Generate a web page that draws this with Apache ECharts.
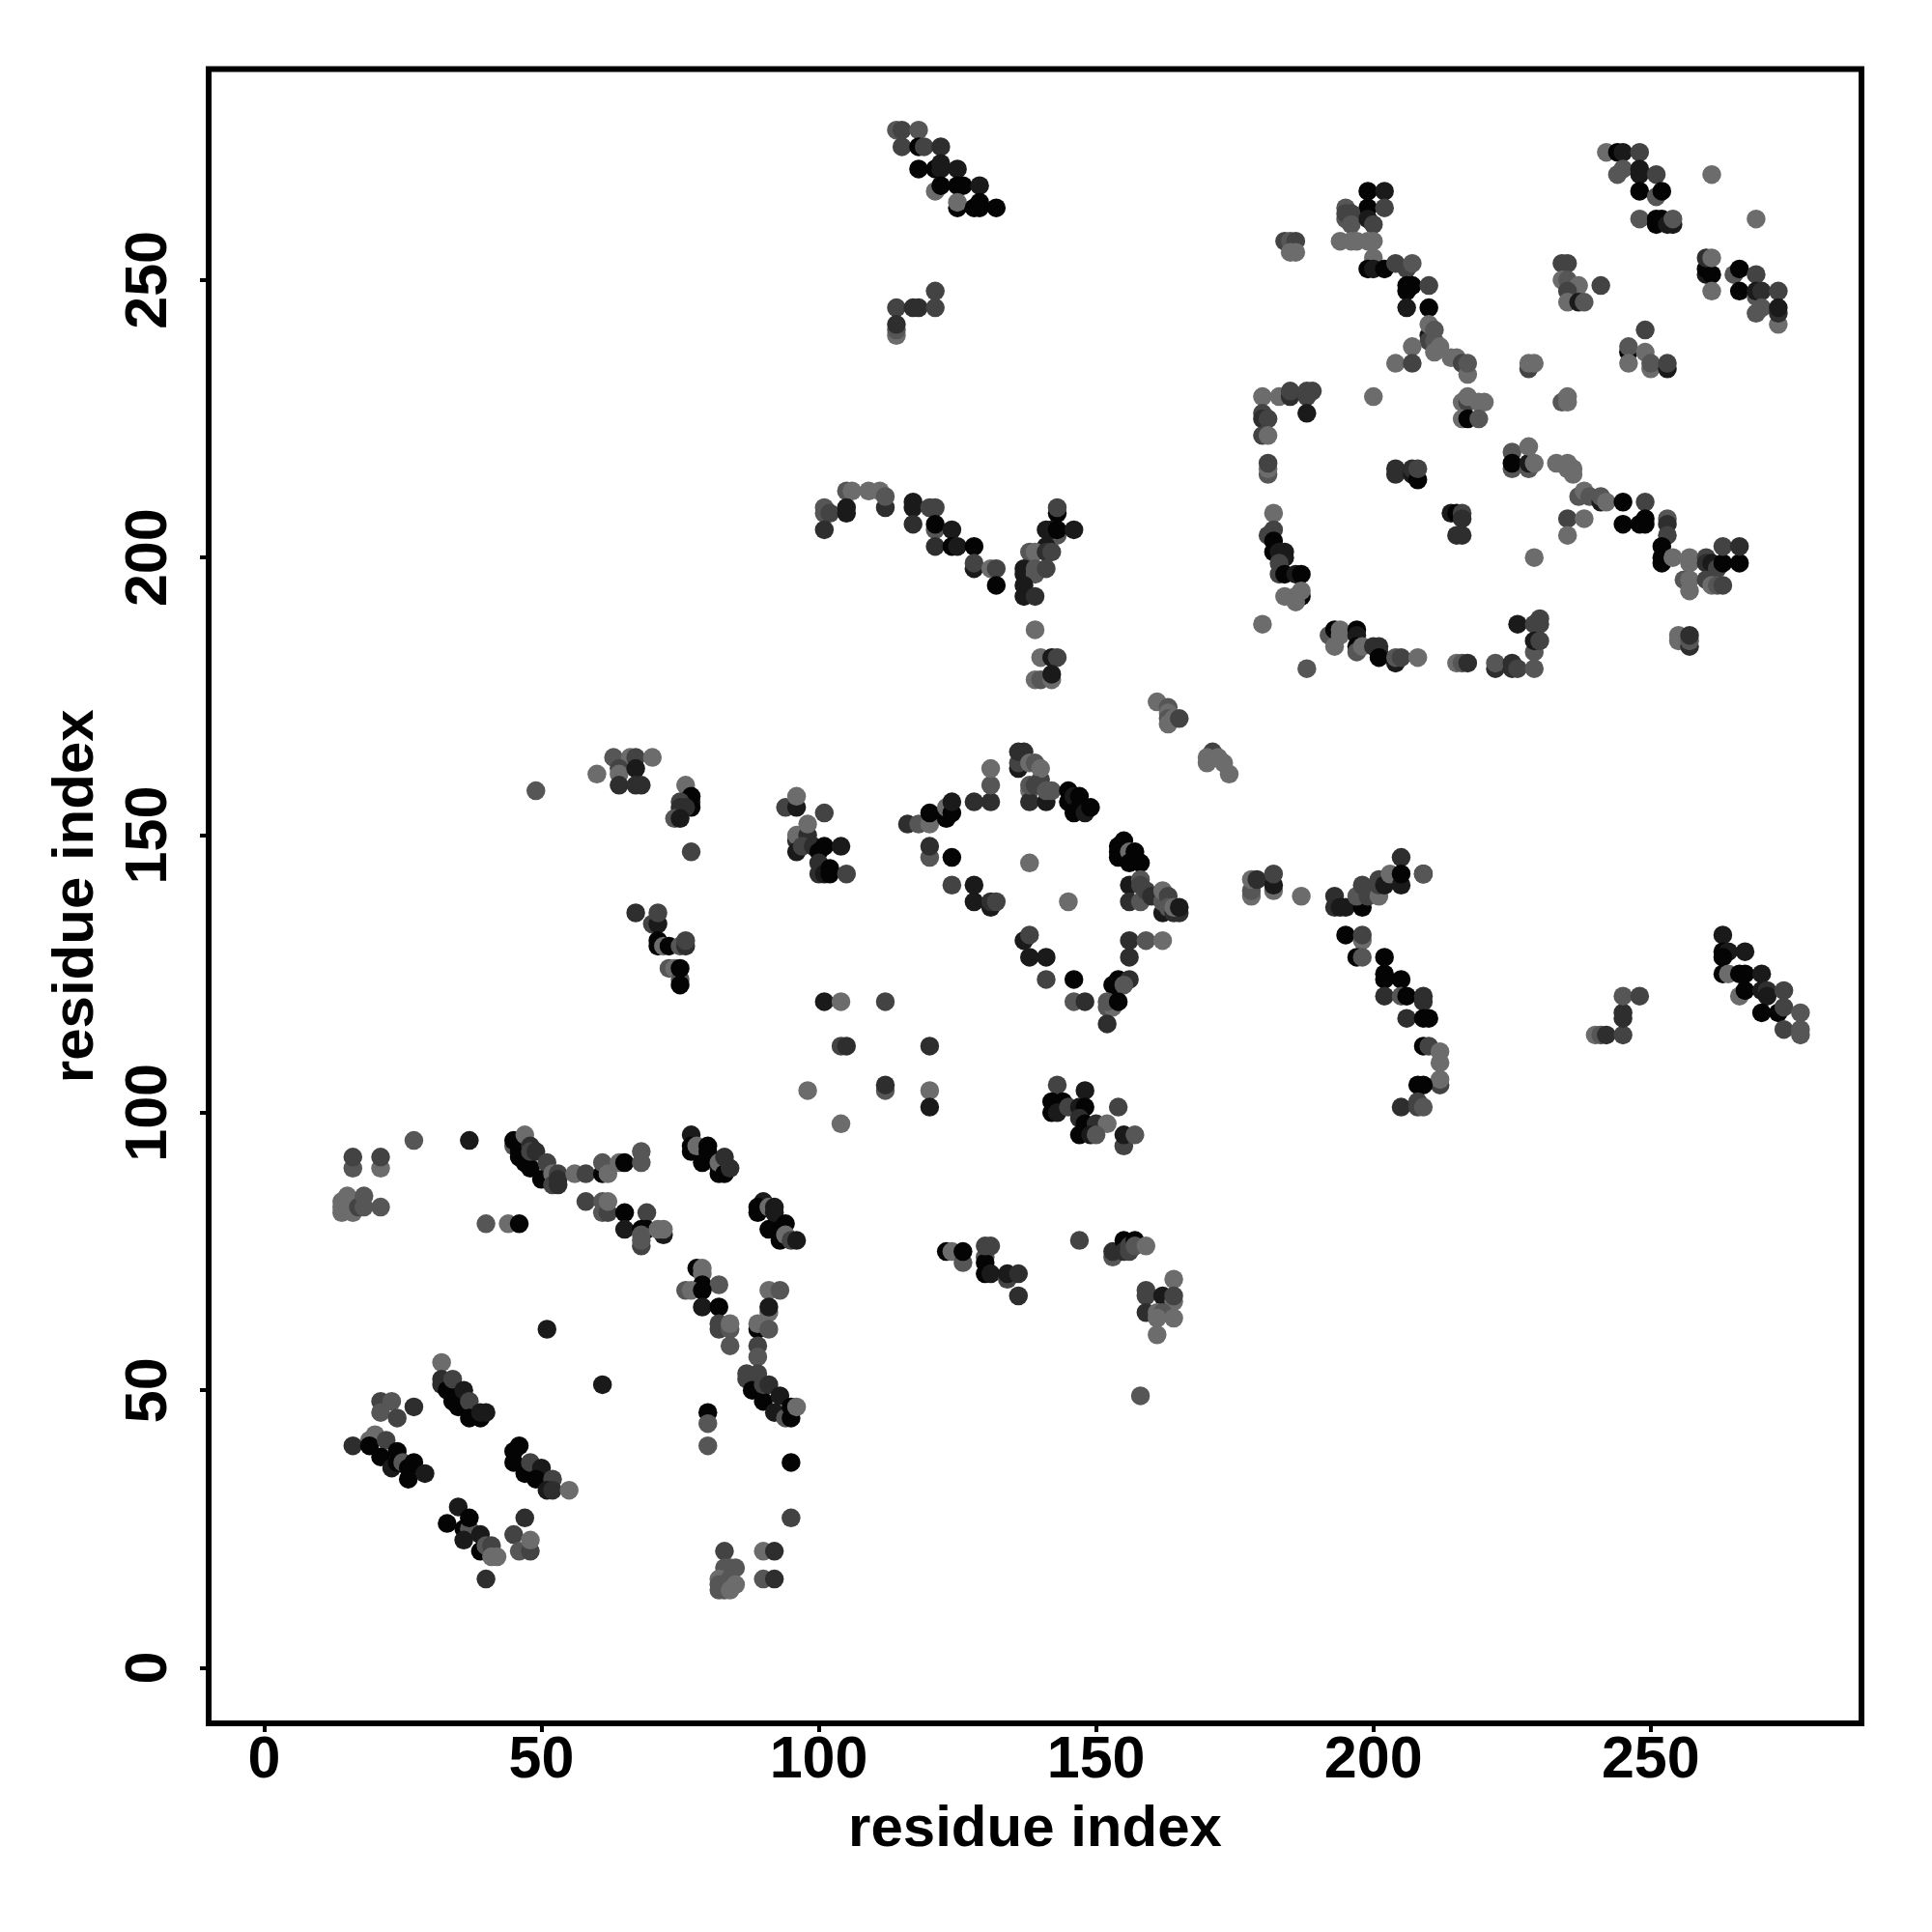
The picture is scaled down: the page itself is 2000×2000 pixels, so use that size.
<!DOCTYPE html>
<html><head><meta charset="utf-8">
<script src="https://cdn.jsdelivr.net/npm/echarts@6/dist/echarts.min.js"></script>
<style>html,body{margin:0;padding:0;background:#fff}#c{width:2000px;height:2000px}</style>
</head><body><div id="c"></div>
<script>
const axisTitle = "residue index";
const tickValues = [0, 50, 100, 150, 200, 250];
const shades = ["#040404", "#1a1a1a", "#2e2e2e", "#434343", "#565656", "#6c6c6c"];
// every contact is [residue x, residue y, shade index]
const lowLeftA = [[16,90,4],[16,92,3],[21,90,5],[21,92,3],[27,95,4],[37,95,1],
 [14,84,5],[14,82,5],[14,83,5],[15,85,5],[15,84,5],[16,82,5],[16,84,5],[17,83,3],[18,83,4],[18,85,4],[21,83,4]];
const lowLeftB = [[45,94,4],[45,95,0],[46,93,0],[46,92,0],[47,91,0],[48,90,0],[47,96,5],[48,94,2],[48,93,3],[49,93,2],[50,88,0],[51,91,3],[52,89,5],[52,87,3],[53,89,3],[53,88,2],[53,87,2],
 [56,89,5],[58,89,3],[61,89,0],[61,91,4],[62,89,5],[64,91,5],[65,91,0],[68,93,4],[68,91,4]];
const lowLeftC = [[58,84,3],[61,82,4],[61,84,4],[62,82,3],[62,84,5],[65,82,0],[65,79,1],[69,82,3],[68,79,0],[69,79,0],[68,76,3],[68,77,4],[68,78,4],[72,78,1],[71,79,5],[72,79,5],[40,80,4],[44,80,5],[46,80,0]];
const lowLeftD = [[77,96,1],[77,94,0],[77,93,0],[79,91,0],[78,94,5],[80,94,0],[80,93,0],[82,90,1],[82,89,0],[82,91,5],[83,89,0],[83,92,2],[84,90,2]];
const lowLeftE = [[90,84,1],[89,83,0],[89,82,0],[91,83,5],[92,83,1],[91,79,0],[92,79,0],[92,82,1],[94,80,0],[93,77,0],[94,78,5],[95,77,3],[96,77,1]];
const midLeftA = [[78,72,0],[79,72,5],[79,71,5],[79,69,0],[82,69,4],[76,68,4],[77,68,5],[79,68,0],[79,65,1],[82,65,0],[82,62,3],[82,61,3],[84,61,4],[84,62,5],[84,58,4],
 [91,68,5],[93,68,4],[91,64,5],[91,65,1],[89,61,0],[89,62,5],[91,61,4],[89,58,3],[89,56,4]];
const midLeftB = [[87,52,3],[87,53,3],[89,53,3],[88,50,0],[90,48,0],[90,51,3],[91,51,2],[93,49,1],[92,46,1],[94,45,4],[95,45,0],[95,47,0],[96,47,5],
 [80,46,0],[80,44,4],[80,40,4],[95,37,0],[95,27,3],[51,61,1],[61,51,1]];
const cornerA = [[32,55,5],[32,51,2],[32,52,2],[33,50,0],[34,48,0],[35,47,0],[34,52,3],[36,50,1],[37,48,3],[37,45,0],[39,45,0],[39,46,1],[40,46,1],
 [21,48,3],[23,48,4],[21,46,4],[24,45,3],[27,47,2]];
const cornerB = [[19,41,5],[20,42,5],[16,40,2],[19,40,0],[22,41,3],[21,38,0],[24,39,0],[23,36,1],[24,37,0],[25,37,4],[26,36,0],[26,34,0],[27,37,0],[29,35,1]];
const cornerC = [[46,40,0],[45,39,0],[45,37,0],[47,35,0],[48,37,3],[50,36,1],[49,34,0],[52,34,3],[51,32,1],[52,32,2],[55,32,5]];
const cornerD = [[35,29,1],[33,26,0],[36,25,0],[37,25,4],[37,27,0],[36,23,1],[39,24,1],[39,21,0],[40,22,4],[41,22,3],[41,20,5],[42,20,5],[40,16,2],
 [47,27,2],[45,24,3],[46,21,4],[48,21,3],[48,23,5]];
const cornerE = [[83,21,3],[83,18,4],[84,18,4],[85,18,4],[82,16,5],[82,15,4],[82,14,4],[83,14,4],[84,16,4],[84,14,5],[85,15,5],[90,21,5],[92,21,2],[90,16,4],[92,16,2]];
const midA = [[49,158,4],[60,161,5],[63,164,4],[66,164,5],[64,162,3],[64,161,5],[64,159,2],[67,164,3],[70,164,5],[67,162,1],[67,159,2],[68,159,2]];
const midB = [[76,159,5],[77,156,2],[77,155,0],[77,157,0],[75,156,3],[75,155,2],[76,155,2],[74,153,4],[75,153,1],[77,147,3]];
const midC = [[67,136,2],[70,134,3],[71,134,1],[71,136,3],[71,131,0],[71,130,0],[72,130,5],[73,130,0],[75,130,4],[76,130,2],[76,131,3],[73,126,4],[74,126,5],[75,124,4],[75,123,0],[75,126,0]];
const midD = [[94,155,3],[96,155,1],[96,157,5],[101,154,3],[96,149,2],[96,150,5],[98,150,2],[96,147,1],[97,148,3],[98,152,5],[99,148,2],[101,148,0],[104,148,1],[100,147,0],[100,145,2],[100,143,2],[101,143,1],[102,144,0],[102,143,0],[105,143,3]];
const midE = [[116,152,2],[118,152,4],[120,152,5],[120,154,0],[123,153,0],[123,155,5],[124,154,0],[124,156,1],[128,156,2],[131,156,2],[131,159,4],[131,162,5],
 [120,146,4],[120,148,2],[124,146,0],[124,141,3],[128,141,1],[128,138,1],[131,137,1],[131,138,2],[132,138,3]];
const isolated = [[101,120,1],[104,120,5],[112,120,3],[104,112,3],[105,112,2],[120,112,2],[98,104,5],[112,104,4],[112,105,2],[120,104,5],[120,101,1],[104,98,5],[138,145,5],[145,138,5]];
const diamondTop = [[136,162,1],[136,163,3],[136,165,2],[137,165,2],[138,158,5],[138,163,5],[139,163,4],[140,160,3],[140,162,5],[138,156,2],[141,156,1],[138,159,4],[139,159,3],[141,158,4],[142,158,4],
 [145,158,0],[145,156,0],[146,157,1],[146,154,0],[147,157,0],[147,155,0],[148,154,1],[149,155,0]];
const diamondRight = [[155,149,0],[154,148,0],[154,147,0],[154,146,0],[156,147,5],[157,147,0],[156,145,0],[158,145,0],
 [156,141,1],[156,138,2],[158,142,4],[158,141,3],[158,138,4],[159,140,3],[160,139,2],[162,136,1],[162,138,4],[162,140,5],[163,139,3],[163,137,4],[164,136,2],[165,136,2],[164,137,5],[165,137,1]];
const diamondLow = [[156,131,2],[159,131,4],[162,131,5],[156,128,2],[137,131,1],[138,132,3],[138,128,1],[141,128,1],[141,124,3],[146,124,0],[146,120,4],[148,120,2],
 [153,123,0],[154,124,0],[156,124,2],[155,123,4],[152,119,4],[153,119,5],[152,120,4],[154,120,0],[152,116,2]];
const centerLow = [[143,105,3],[148,104,1],[142,102,0],[144,102,0],[142,100,0],[143,100,1],[145,101,3],[147,101,1],[148,101,0],[154,101,3],[147,99,2],[148,98,0],[150,98,2],[152,98,5],[147,96,0],[149,96,1],[150,96,4],[155,94,3],[155,96,1],[157,96,4]];
const stripeMid = [[123,75,0],[124,75,5],[126,73,4],[126,75,0],[130,74,4],[130,73,0],[130,71,0],[131,71,1],[130,76,3],[131,76,3],[134,70,3],[134,71,1],[136,71,2],[136,67,2],
 [147,77,3],[153,74,4],[153,75,2],[155,77,0],[155,75,2],[156,75,3],[156,76,3],[157,77,0],[157,76,4],[159,76,5]];
const stripeLow = [[164,70,5],[159,68,3],[159,67,3],[159,64,2],[162,67,1],[164,66,5],[164,67,3],[161,64,5],[162,64,4],[161,63,5],[164,63,5],[161,60,5],[158,49,4]];
const diagonalGap = [[161,174,5],[163,173,4],[163,172,5],[163,171,4],[163,170,5],[164,171,5],[165,171,3],[171,165,3],[170,163,5],[170,164,5],[172,164,5],[173,163,5],[174,161,5]];
const rightMidA = [[178,139,5],[178,140,4],[178,142,5],[179,142,2],[182,140,5],[182,141,1],[182,143,3],[187,139,5],
 [193,139,2],[193,137,2],[194,137,1],[195,137,1],[198,137,0],[197,139,4],[198,141,3],[199,139,3],[201,139,5],[201,141,3],[201,142,3],[202,141,1],[203,143,5],[205,146,2],[205,141,1],[205,143,0],[209,143,0],[209,143,4]];
const rightMidB = [[195,132,0],[198,131,5],[198,132,3],[197,128,0],[198,128,4],[202,128,0],[202,125,0],[202,124,0],[205,124,0],[202,121,2],[205,121,4],[206,121,0],[209,120,2],[209,121,2],[206,117,2],[209,117,0],[210,117,0],
 [209,112,0],[210,112,3],[212,111,5],[212,109,5],[212,105,3],[212,106,5],[208,105,0],[209,105,0],[205,101,2],[208,102,3],[208,101,3],[209,101,4]];
const rightMidC = [[240,114,5],[241,114,4],[242,114,2],[245,114,3],[245,117,2],[245,118,2],[245,121,4],[248,121,3]];
const rightMidD = [[263,132,1],[263,129,0],[264,129,1],[263,128,0],[267,129,1],[263,125,0],[264,125,5],[266,125,0],[267,125,0],[270,125,1],[266,121,5],[267,122,0],[270,122,1],[271,122,2],[271,121,1],[274,122,3],[270,118,0],[273,118,0],[274,119,3],[277,118,4],[274,115,3],[277,114,4],[277,115,4]];
const topDiagonal = [[114,277,4],[115,277,3],[118,277,4],[115,274,3],[118,274,0],[119,274,3],[122,274,2],[118,270,0],[121,270,0],[122,270,1],[122,271,1],[125,270,1],[121,266,5],[122,267,0],[125,263,0],[125,267,0],[126,267,0],[125,264,5],[129,267,1],[128,263,0],[129,263,0],[129,264,0],[132,263,0],
 [121,248,3],[114,245,3],[117,245,2],[118,245,2],[121,245,3],[114,240,5],[114,241,4],[114,242,2]];
const archA = [[101,209,4],[101,208,4],[102,208,3],[101,205,2],[105,212,4],[106,212,5],[109,212,5],[111,212,5],[105,209,1],[105,208,1],[112,209,2],[112,211,4],[117,210,1],[117,209,1],[117,206,2],[120,209,3],[121,209,3],[121,205,4],[121,206,0],[124,205,1],[121,202,2],[124,202,0],[125,202,1],[128,202,0],[128,198,1],[128,199,3],[131,198,5],[132,198,3],[132,195,0]];
const archB = [[143,208,0],[143,209,3],[142,204,4],[143,204,4],[141,205,1],[142,205,1],[143,205,0],[146,205,1],[141,202,1],[138,201,4],[139,201,5],[141,201,2],[142,201,3],[137,198,1],[137,197,1],[139,197,4],[139,198,4],[141,198,3],[137,195,1],[137,193,1],[139,193,2],
 [139,187,5],[140,182,5],[142,182,1],[143,182,3],[139,178,5],[140,178,4],[142,178,5],[142,179,1]];
const topRightA = [[242,273,5],[244,273,0],[245,273,1],[248,273,3],[244,269,4],[245,270,4],[248,269,1],[248,270,1],[251,269,3],[248,266,0],[251,265,4],[252,266,0],[261,269,5],[248,261,4],[251,260,0],[251,261,0],[252,261,0],[253,260,1],[254,260,1],[254,261,4],[269,261,5]];
const topRightB = [[260,251,1],[260,252,0],[261,251,0],[260,254,2],[261,254,5],[261,248,5],[265,251,4],[266,252,0],[269,251,3],[266,248,0],[269,247,4],[269,248,1],[270,248,2],[273,248,3],[269,244,4],[270,245,4],[273,242,5],[273,244,2],[273,245,1]];
const topRightC = [[234,253,3],[235,253,3],[234,250,5],[235,250,4],[237,249,5],[241,249,3],[235,248,3],[235,246,5],[237,246,1],[238,246,4],
 [249,241,3],[246,237,0],[246,238,4],[246,235,5],[249,237,5],[250,234,5],[250,235,4],[253,234,1],[253,235,3]];
const upperA = [[199,266,0],[202,266,1],[199,263,0],[202,263,3],[195,261,4],[195,263,4],[195,262,3],[196,262,3],[196,260,4],[199,261,1],[200,260,3],[194,257,5],[196,257,5],[197,257,5],[199,257,5],[200,257,5],[200,254,5],[199,252,0],[200,252,1],[202,252,0],[204,253,3],[206,252,3],[207,253,4],
 [184,257,3],[185,257,4],[186,257,3],[185,255,5],[186,255,5]];
const upperB = [[206,248,0],[206,249,0],[207,249,0],[210,249,3],[206,245,1],[210,245,0],[210,240,1],[210,239,3],[210,242,5],[211,241,4],[211,239,4],[212,238,5],[207,238,5],[211,237,5],[204,235,5],[207,235,3],[214,236,5],[215,236,5],[216,235,3],[217,233,5],[217,235,4],[228,234,3],[228,235,5],[229,235,5]];
const upperC = [[216,228,5],[217,228,3],[217,229,5],[219,228,5],[220,228,5],[216,225,5],[217,225,0],[219,225,4],[234,228,4],[235,228,5],[235,229,5],[200,229,5],
 [180,229,5],[183,229,5],[185,229,2],[185,230,3],[188,229,3],[188,230,3],[189,230,3],[188,226,1],[180,226,3],[180,225,2],[181,225,3],[180,222,3],[181,222,5],[181,215,4],[181,216,5],[181,217,3]];
const upperD = [[204,215,2],[204,216,2],[207,215,1],[207,216,2],[208,214,0],[208,216,3],[214,208,1],[215,208,0],[216,208,3],[216,207,2],[215,204,2],[216,204,2]];
const upperE = [[225,219,4],[225,216,4],[225,217,0],[228,216,4],[228,217,1],[228,220,5],[229,217,5],[233,217,5],[235,216,5],[235,217,5],[236,216,5],[236,215,5],
 [237,211,4],[238,212,5],[239,211,4],[241,210,1],[241,211,4],[242,210,5],[245,210,0],[249,210,3],[235,207,3],[238,207,5],[235,204,5]];
const upperF = [[245,206,0],[248,206,0],[249,207,0],[249,206,0],[253,207,4],[253,206,2],[253,204,3],[252,202,0],[252,200,0],[252,199,0],[254,200,5],[229,200,5],
 [257,199,5],[257,200,5],[256,196,4],[257,196,5],[257,194,5],[260,200,3],[260,199,2],[261,199,1],[262,198,3],[263,199,0],[266,199,0],[263,202,3],[266,202,2],[260,196,3],[261,195,5],[262,195,4],[263,195,3],
 [255,185,5],[255,186,5],[257,184,2],[257,185,4],[257,186,2]];
const arcLeft = [[182,208,5],[182,205,3],[181,204,3],[182,203,0],[182,201,0],[183,201,1],[184,201,1],[184,200,1],[183,199,3],[183,197,3],[184,197,0],[186,197,1],[187,197,0],[184,193,5],[186,193,5],[187,193,0],[187,194,5],[186,192,5],[180,188,5],[188,180,4]];
const arcBottom = [[192,186,4],[193,187,0],[194,187,5],[193,184,5],[194,186,5],[197,187,0],[197,186,1],[197,184,0],[197,183,4],[198,184,5],[200,184,2],[201,184,2],[201,183,2],[201,182,0],[204,181,1],[204,182,4],[205,182,3],[208,182,5],
 [215,181,5],[216,181,4],[217,181,2],[222,180,2],[222,181,4],[225,181,2],[225,180,2],[226,180,3],[229,180,4],[229,183,4],[226,188,1],[229,188,3],[230,188,3],[230,189,3],[229,185,1],[230,185,3]];

const contacts = [].concat(lowLeftA, lowLeftB, lowLeftC, lowLeftD, lowLeftE, midLeftA, midLeftB, cornerA, cornerB, cornerC, cornerD, cornerE,
  midA, midB, midC, midD, midE, isolated, diamondTop, diamondRight, diamondLow, centerLow, stripeMid, stripeLow, diagonalGap,
  rightMidA, rightMidB, rightMidC, rightMidD, topDiagonal, archA, archB, topRightA, topRightB, topRightC, upperA, upperB, upperC, upperD, upperE, upperF, arcLeft, arcBottom);

const font = "Liberation Sans";
function axis(extra) {
  return Object.assign({
    type: "value", min: -10, max: 288, name: axisTitle, nameLocation: "middle",
    nameTextStyle: {fontFamily: font, fontWeight: "bold", fontSize: 60, color: "#000"},
    splitLine: {show: false}, axisLine: {show: false, onZero: false},
    axisTick: {show: true, length: 9, lineStyle: {color: "#000", width: 4}, customValues: tickValues}
  }, extra);
}
const labelBase = {fontFamily: font, fontWeight: "bold", fontSize: 61, color: "#000", customValues: tickValues};
const chart = echarts.init(document.getElementById("c"), null, {renderer: "canvas"});
chart.setOption({
  animation: false, backgroundColor: "#fff",
  grid: {left: 216, right: 73, top: 71.5, bottom: 216, show: true, borderColor: "#000", borderWidth: 6, backgroundColor: "transparent"},
  xAxis: axis({nameGap: 80, axisLabel: Object.assign({margin: 9}, labelBase)}),
  yAxis: axis({nameGap: 107, nameRotate: 90, axisLabel: Object.assign({rotate: 90, margin: 30}, labelBase)}),
  series: [{
    type: "scatter", symbol: "circle", symbolSize: 19.5, clip: false, progressive: 0, large: false,
    data: contacts,
    encode: {x: 0, y: 1},
    itemStyle: {opacity: 1, color: p => shades[p.data[2]]}
  }]
});
</script></body></html>
